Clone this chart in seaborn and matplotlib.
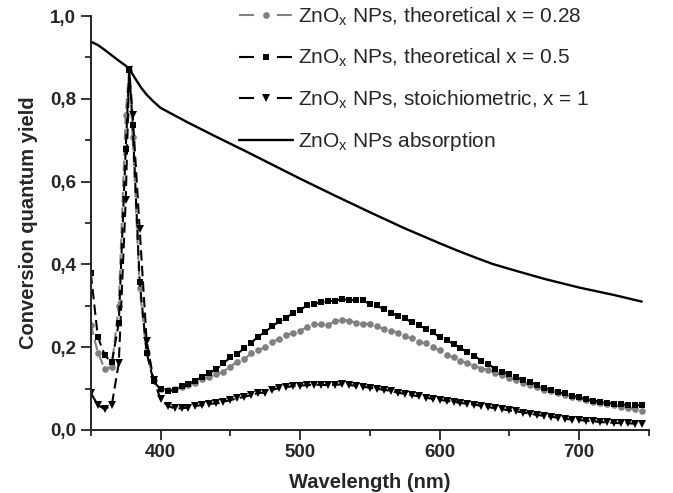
import numpy as np
import pandas as pd
import matplotlib
matplotlib.use("Agg")
import matplotlib.pyplot as plt
from matplotlib.ticker import MultipleLocator, FixedLocator, FuncFormatter
import seaborn as sns

# ---------------- data ----------------
wavelength = [350, 355, 360, 365, 370, 375, 377.5, 380, 385, 390, 395,
              400, 405, 410, 415, 420, 425, 430, 435, 440, 445, 450, 455, 460, 465,
              470, 475, 480, 485, 490, 495, 500, 505, 510, 515, 520, 525, 530, 535,
              540, 545, 550, 555, 560, 565, 570, 575, 580, 585, 590, 595, 600, 605,
              610, 615, 620, 625, 630, 635, 640, 645, 650, 655, 660, 665, 670, 675,
              680, 685, 690, 695, 700, 705, 710, 715, 720, 725, 730, 735, 740, 745]

qy_x028 = [0.254, 0.187, 0.147, 0.153, 0.300, 0.762, 0.870, 0.708, 0.342, 0.185, 0.121,
           0.100, 0.097, 0.100, 0.104, 0.108, 0.113, 0.122, 0.129, 0.134, 0.141, 0.153,
           0.165, 0.171, 0.185, 0.192, 0.200, 0.213, 0.219, 0.229, 0.235, 0.240, 0.248,
           0.255, 0.255, 0.254, 0.262, 0.266, 0.264, 0.259, 0.256, 0.256, 0.250, 0.244,
           0.240, 0.235, 0.226, 0.221, 0.213, 0.209, 0.200, 0.192, 0.182, 0.175, 0.167,
           0.161, 0.155, 0.148, 0.145, 0.137, 0.133, 0.125, 0.121, 0.114, 0.109, 0.103,
           0.097, 0.093, 0.090, 0.085, 0.080, 0.076, 0.073, 0.068, 0.066, 0.063, 0.059,
           0.056, 0.052, 0.051, 0.046]

qy_x05 = [0.378, 0.225, 0.180, 0.163, 0.258, 0.678, 0.870, 0.737, 0.358, 0.187, 0.117,
          0.098, 0.093, 0.097, 0.105, 0.111, 0.119, 0.129, 0.137, 0.147, 0.161, 0.175,
          0.184, 0.197, 0.211, 0.225, 0.237, 0.250, 0.262, 0.270, 0.283, 0.289, 0.301,
          0.305, 0.308, 0.312, 0.312, 0.316, 0.314, 0.313, 0.313, 0.304, 0.301, 0.291,
          0.283, 0.276, 0.270, 0.260, 0.254, 0.244, 0.236, 0.224, 0.216, 0.208, 0.197,
          0.188, 0.179, 0.167, 0.159, 0.147, 0.141, 0.135, 0.127, 0.121, 0.115, 0.109,
          0.102, 0.097, 0.091, 0.088, 0.083, 0.079, 0.074, 0.071, 0.068, 0.066, 0.063,
          0.062, 0.060, 0.059, 0.060]

qy_x1 = [0.089, 0.060, 0.050, 0.060, 0.161, 0.556, 0.870, 0.760, 0.485, 0.215, 0.120,
         0.075, 0.058, 0.052, 0.052, 0.054, 0.058, 0.060, 0.063, 0.064, 0.068, 0.072,
         0.076, 0.080, 0.084, 0.089, 0.090, 0.097, 0.101, 0.103, 0.106, 0.107, 0.108,
         0.109, 0.109, 0.108, 0.109, 0.110, 0.109, 0.106, 0.104, 0.102, 0.099, 0.097,
         0.094, 0.090, 0.087, 0.084, 0.081, 0.078, 0.075, 0.073, 0.070, 0.068, 0.065,
         0.063, 0.061, 0.058, 0.055, 0.052, 0.050, 0.047, 0.045, 0.042, 0.039, 0.036,
         0.034, 0.032, 0.029, 0.027, 0.025, 0.024, 0.022, 0.021, 0.019, 0.018, 0.017,
         0.016, 0.016, 0.015, 0.014]

abs_wavelength = [350, 355, 360, 365, 370, 375, 378, 382, 386, 390, 395, 400, 420, 440,
                  460, 480, 500, 525, 550, 575, 600, 613, 626, 638, 650, 675, 700,
                  725, 745]
absorption = [0.938, 0.930, 0.918, 0.905, 0.892, 0.880, 0.870, 0.848, 0.827, 0.810,
              0.793, 0.778, 0.742, 0.708, 0.675, 0.641, 0.607, 0.566, 0.526, 0.487,
              0.451, 0.433, 0.416, 0.401, 0.389, 0.365, 0.344, 0.326, 0.310]

labels = [r"ZnO$_{\mathregular{x}}$ NPs, theoretical x = 0.28",
          r"ZnO$_{\mathregular{x}}$ NPs, theoretical x = 0.5",
          r"ZnO$_{\mathregular{x}}$ NPs, stoichiometric, x = 1",
          r"ZnO$_{\mathregular{x}}$ NPs absorption"]

x_tick_labels = ["400", "500", "600", "700"]

# ---------------- style ----------------
sns.set_style("ticks")
plt.rcParams["font.family"] = ["Liberation Sans", "DejaVu Sans"]
plt.rcParams["mathtext.fontset"] = "custom"
plt.rcParams["mathtext.rm"] = "Liberation Sans"
plt.rcParams["mathtext.it"] = "Liberation Sans"

fig = plt.figure(figsize=(6.73, 4.93), dpi=100)
ax = fig.add_axes([0.135, 0.128, 0.829, 0.8395])

df = pd.DataFrame({"wl": wavelength, "a": qy_x028, "b": qy_x05, "c": qy_x1})
dfa = pd.DataFrame({"wl": abs_wavelength, "abs": absorption})

dash = (5, 2.5)
sns.lineplot(data=df, x="wl", y="a", ax=ax, color="#808080", marker="o",
             markersize=4.8, markeredgewidth=0, linewidth=1.5, label=labels[0])
sns.lineplot(data=df, x="wl", y="b", ax=ax, color="black", marker="s",
             markersize=4.6, markeredgewidth=0, linewidth=1.5, label=labels[1])
sns.lineplot(data=df, x="wl", y="c", ax=ax, color="black", marker="v",
             markersize=5.4, markeredgewidth=0, linewidth=1.5, label=labels[2])
for ln in ax.lines[:3]:
    ln.set_dashes(dash)
sns.lineplot(data=dfa, x="wl", y="abs", ax=ax, color="black", linewidth=1.7,
             label=labels[3])

ax.set_xlim(350, 750)
ax.set_ylim(0, 1.0)
ax.xaxis.set_major_locator(FixedLocator([400, 500, 600, 700]))
ax.set_xticklabels(x_tick_labels)
ax.xaxis.set_minor_locator(FixedLocator([350, 450, 550, 650, 750]))
ax.yaxis.set_major_locator(MultipleLocator(0.2))
ax.yaxis.set_minor_locator(MultipleLocator(0.1))
ax.yaxis.set_major_formatter(FuncFormatter(lambda v, p: f"{v:.1f}".replace(".", ",")))

ax.tick_params(axis="both", which="major", direction="out", width=1.3, length=7,
               labelsize=13.5)
ax.tick_params(axis="both", which="minor", direction="out", width=1.3, length=4.5)
for lab in ax.get_xticklabels() + ax.get_yticklabels():
    lab.set_fontweight("bold")

for s in ["top", "right"]:
    ax.spines[s].set_visible(False)
for s in ["left", "bottom"]:
    ax.spines[s].set_linewidth(1.4)

ax.set_xlabel("Wavelength (nm)", fontsize=14.5, fontweight="bold", labelpad=8)
ax.set_ylabel("Conversion quantum yield", fontsize=14.5, fontweight="bold", labelpad=9)

leg = ax.legend(loc="upper left", bbox_to_anchor=(0.265, 1.025), frameon=False,
                fontsize=15, handlelength=2.6, handletextpad=0.25, labelspacing=0.92,
                borderpad=0, borderaxespad=0)
for hl in leg.get_lines()[:3]:
    hl.set_dashes((7.2, 11))

fig.savefig("out.png", dpi=100)
